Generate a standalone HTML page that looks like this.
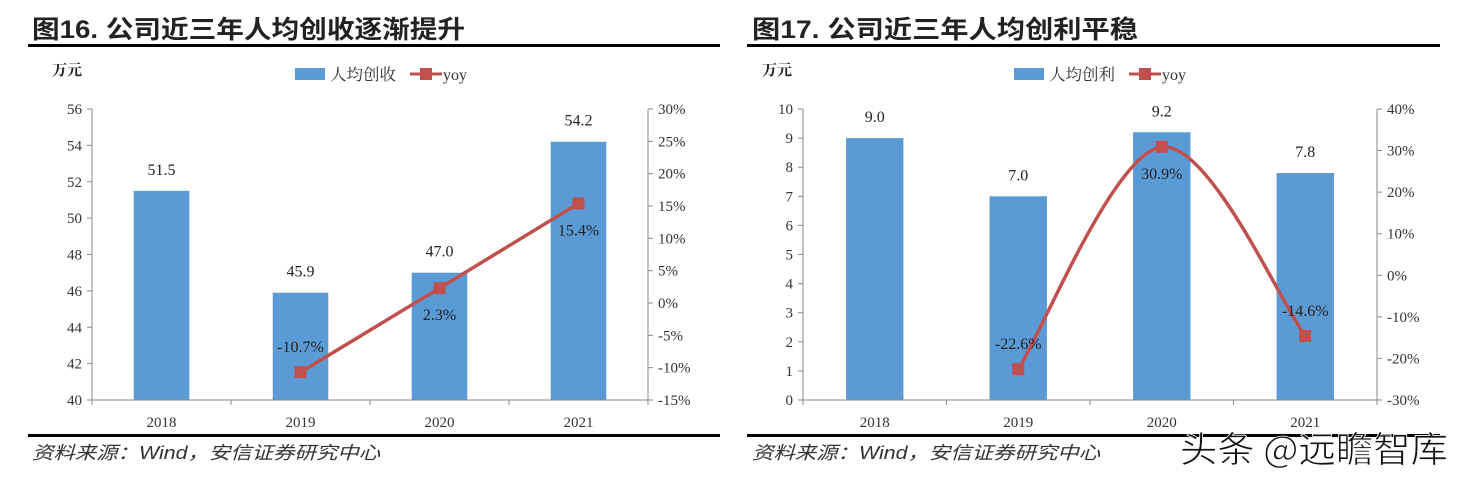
<!DOCTYPE html>
<html><head><meta charset="utf-8"><style>
html,body{margin:0;padding:0;background:#fff;}
svg{display:block;font-family:"Liberation Serif","Noto Serif CJK SC",serif;}
.t{font-family:"Liberation Sans","Noto Sans CJK SC",sans-serif;font-weight:bold;font-size:25px;fill:#222;}
.src{font-family:"Liberation Sans","Noto Sans CJK SC",sans-serif;font-style:italic;font-size:18px;fill:#333;}
</style></head><body>
<svg id="s" width="1461" height="481" viewBox="0 0 1461 481" xmlns="http://www.w3.org/2000/svg">
<text class="t" x="32" y="38" textLength="433" lengthAdjust="spacingAndGlyphs">图16. 公司近三年人均创收逐渐提升</text>
<rect x="28" y="44" width="692" height="3" fill="#000"/>
<text class="t" x="752" y="38" textLength="386" lengthAdjust="spacingAndGlyphs">图17. 公司近三年人均创利平稳</text>
<rect x="747" y="44" width="693" height="3" fill="#000"/>
<rect x="28" y="434" width="692" height="3" fill="#000"/>
<rect x="747" y="434" width="693" height="3" fill="#000"/>
<text class="src" x="32" y="459" textLength="348" lengthAdjust="spacingAndGlyphs">资料来源：Wind，安信证券研究中心</text>
<text class="src" x="752" y="459" textLength="348" lengthAdjust="spacingAndGlyphs">资料来源：Wind，安信证券研究中心</text>
<text x="1180" y="462" textLength="268" lengthAdjust="spacingAndGlyphs" font-family="'Noto Sans CJK SC',sans-serif" font-size="36" fill="#111" stroke="#fff" stroke-width="0.8">头条 @远瞻智库</text>
<g id="L"></g><g id="R"></g>
</svg>
<script>
const categories=["2018","2019","2020","2021"];
const leftBars=[51.5,45.9,47.0,54.2];
const leftYoy=[null,-10.7,2.3,15.4];
const leftYTicks=[40,42,44,46,48,50,52,54,56];
const leftPctTicks=[-15,-10,-5,0,5,10,15,20,25,30];
const rightBars=[9.0,7.0,9.2,7.8];
const rightYoy=[null,-22.6,30.9,-14.6];
const rightYTicks=[0,1,2,3,4,5,6,7,8,9,10];
const rightPctTicks=[-30,-20,-10,0,10,20,30,40];
const leftLabelPos=[0,-1,1,1];
const rightLabelPos=[0,-1,1,-1];
const NS="http://www.w3.org/2000/svg";
function mk(p,tag,a){const e=document.createElementNS(NS,tag);for(const k in a)e.setAttribute(k,a[k]);p.appendChild(e);return e;}
function chart(g,o){
  const {x0,x1,top,bot,yt,pt,bars,yoy,smooth,lp,legend,unitX}=o;
  const ymin=yt[0],ymax=yt[yt.length-1],pmin=pt[0],pmax=pt[pt.length-1];
  const y=v=>bot-(v-ymin)/(ymax-ymin)*(bot-top);
  const p=v=>bot-(v-pmin)/(pmax-pmin)*(bot-top);
  const cw=(x1-x0)/categories.length;
  const cx=i=>x0+cw*(i+0.5);
  const bw=cw*0.4;
  const u=mk(g,'text',{x:unitX,y:75,'font-size':15,'font-weight':'bold',fill:'#222'});u.textContent='万元';
  
  const lx=legend;
  let r=mk(g,'rect',{x:lx,y:68,width:30,height:12,fill:'#5b9bd5'});
  
  let t=mk(g,'text',{x:lx+35,y:80,'font-size':16,fill:'#333',textLength:66,lengthAdjust:'spacingAndGlyphs'});t.textContent=o.name;
  
  let l=mk(g,'line',{x1:lx+115,y1:74,x2:lx+147,y2:74,stroke:'#c0504d','stroke-width':3});
  
  r=mk(g,'rect',{x:lx+125,y:68,width:12,height:12,fill:'#c0504d'});
  
  t=mk(g,'text',{x:lx+148,y:80,'font-size':16,fill:'#333'});t.textContent='yoy';
  
  bars.forEach((v,i)=>{
    const b=mk(g,'rect',{x:cx(i)-bw/2,y:y(v),width:bw,height:bot-y(v),fill:'#5b9bd5'});
    
    const tl=mk(g,'text',{x:cx(i),y:y(v)-16,'text-anchor':'middle','font-size':16,fill:'#222'});tl.textContent=v.toFixed(1);
    
  });
  const ax=mk(g,'path',{d:`M${x0},${top}V${bot}H${x1}V${top}`,fill:'none',stroke:'#888','stroke-width':1});
  
  yt.forEach(v=>{mk(g,'line',{x1:x0-5,y1:y(v),x2:x0,y2:y(v),stroke:'#888'});
    const e=mk(g,'text',{x:x0-10,y:y(v)+5,'text-anchor':'end','font-size':15,fill:'#333'});e.textContent=v;
    });
  pt.forEach(v=>{mk(g,'line',{x1:x1,y1:p(v),x2:x1+5,y2:p(v),stroke:'#888'});
    const e=mk(g,'text',{x:x1+10,y:p(v)+5,'font-size':15,fill:'#333'});e.textContent=v+'%';
    });
  for(let i=0;i<=categories.length;i++)mk(g,'line',{x1:x0+cw*i,y1:bot,x2:x0+cw*i,y2:bot+5,stroke:'#888'});
  categories.forEach((c,i)=>{const e=mk(g,'text',{x:cx(i),y:bot+27,'text-anchor':'middle','font-size':15,fill:'#333'});e.textContent=c;
    });
  const pts=[];yoy.forEach((v,i)=>{if(v!==null)pts.push([cx(i),p(v),v,i]);});
  let d='M'+pts[0][0]+','+pts[0][1];
  for(let k=1;k<pts.length;k++){
    if(!smooth){d+='L'+pts[k][0]+','+pts[k][1];continue;}
    const a=pts[k-2]||pts[k-1],b=pts[k-1],c=pts[k],e=pts[k+1]||pts[k];
    d+=`C${b[0]+(c[0]-a[0])/6},${b[1]+(c[1]-a[1])/6} ${c[0]-(e[0]-b[0])/6},${c[1]-(e[1]-b[1])/6} ${c[0]},${c[1]}`;
  }
  const ln=mk(g,'path',{d:d,fill:'none',stroke:'#c0504d','stroke-width':3.5});
  
  pts.forEach(q=>{const m=mk(g,'rect',{x:q[0]-6,y:q[1]-6,width:12,height:12,fill:'#c0504d'});
    
    const s=lp[q[3]];
    const e=mk(g,'text',{x:q[0],y:s<0?q[1]-20:q[1]+32,'text-anchor':'middle','font-size':16,fill:'#222'});e.textContent=q[2].toFixed(1)+'%';
    });
}
chart(document.getElementById('L'),{x0:92,x1:648,top:109,bot:400,yt:leftYTicks,pt:leftPctTicks,bars:leftBars,yoy:leftYoy,smooth:false,lp:leftLabelPos,legend:295,unitX:52,name:'人均创收'});
chart(document.getElementById('R'),{x0:803,x1:1377,top:109,bot:400,yt:rightYTicks,pt:rightPctTicks,bars:rightBars,yoy:rightYoy,smooth:true,lp:rightLabelPos,legend:1014,unitX:762,name:'人均创利'});
</script>
</body></html>
